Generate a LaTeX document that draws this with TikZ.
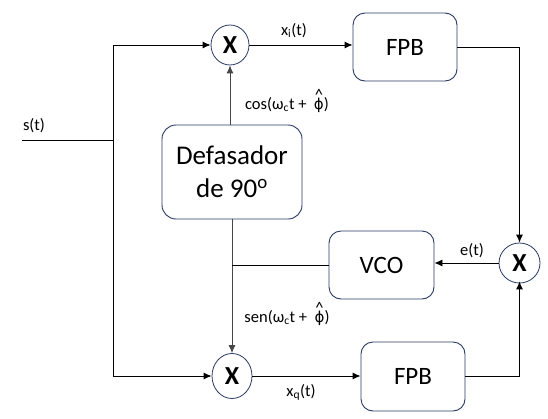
\documentclass[tikz,border=0pt]{standalone}
\usepackage{fontspec}
\setmainfont{Carlito}
\newfontfamily\dfont{DejaVu Sans}
\usetikzlibrary{arrows.meta,shapes.geometric}
\definecolor{edgeblue}{RGB}{40,58,98}
\definecolor{wiregray}{RGB}{70,70,70}
\newcommand{\phihat}{\shortstack[c]{\^{}\\[-6pt]{\dfont\fontsize{15}{17}\selectfont ϕ}}}
\begin{document}
\begin{tikzpicture}[x=1pt,y=-1pt,
  blk/.style={draw=edgeblue,line width=0.9pt,rounded corners=12pt,fill=white,font=\fontsize{25}{29}\selectfont,align=center,inner sep=0pt},
  mix/.style={draw=edgeblue,line width=0.8pt,ellipse,inner sep=0pt,font=\fontsize{26}{30}\selectfont\bfseries},
  wire/.style={line width=0.9pt,black},
  arr/.style={wire,-{Latex[length=8pt,width=7pt]}},
  lbl/.style={font=\fontsize{16.5}{19}\selectfont,inner sep=0pt,anchor=base}]
\useasboundingbox (0,0) rectangle (548,418);
% nodes
\node[mix,minimum width=38pt,minimum height=40pt] (m1) at (230,45) {X};
\node[mix,minimum width=40pt,minimum height=45pt] (m2) at (232,376) {X};
\node[mix,minimum width=41pt,minimum height=40pt] (m3) at (519.5,263) {X};
\node[blk,minimum width=104pt,minimum height=68pt] (fpb1) at (405,47) {FPB};
\node[blk,minimum width=104pt,minimum height=69pt] (fpb2) at (413,376.5) {FPB};
\node[blk,minimum width=140pt,minimum height=94pt,rounded corners=14pt,font=\fontsize{27}{33}\selectfont] (def) at (232,172) {Defasador\\de 90\textsuperscript{o}};
\node[blk,minimum width=105pt,minimum height=68pt] (vco) at (381.5,265) {VCO};
\coordinate (sin) at (22,140);
\coordinate (split) at (113,140);
\coordinate (join) at (232,265);
% connectors
\draw[wire] (sin) -- (split);
\draw[arr] (split) |- (m1.west);
\draw[arr] (split) |- (m2.west);
\draw[arr] (m1.east) -- (m1.east -| fpb1.west);
\draw[arr] (m2.east) -- (m2.east -| fpb2.west);
\draw[arr] (fpb1.east) -| (m3.north);
\draw[arr] (fpb2.east) -| ([yshift=2pt]m3.south);
\draw[arr] (m3.west) -- (m3.west -| vco.east);
\draw[arr,draw=wiregray] (def.north -| m1.south) -- (m1.south);
\draw[arr,draw=wiregray] (def.south) -- (m2.north);
\draw[wire] (vco.west) -- (join);
% labels
\node[lbl] (lxi) at (294,35) {x\textsubscript{i}(t)};
\node[lbl] (lxq) at (301,396) {x\textsubscript{q}(t)};
\node[lbl] (lst) at (34,130) {s(t)};
\node[lbl] (let) at (472,255) {e(t)};
\node[lbl] (lcos) at (287,109) {cos(ω\textsubscript{c}t +\ \ \phihat)};
\node[lbl] (lsen) at (287,322) {sen(ω\textsubscript{c}t +\ \ \phihat)};
\end{tikzpicture}
\end{document}
